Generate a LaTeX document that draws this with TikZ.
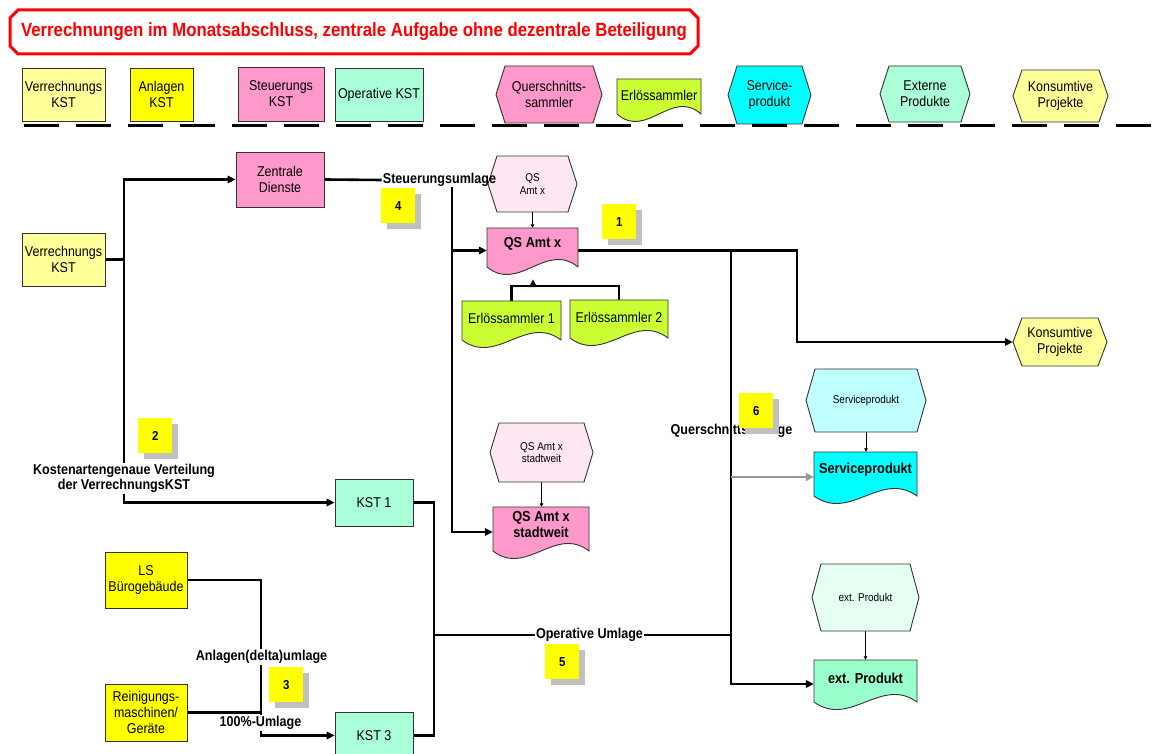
\documentclass[tikz,border=0pt]{standalone}
\usepackage{fontspec}
\setmainfont{Liberation Sans}[FakeStretch=0.88]
\usetikzlibrary{arrows.meta,calc,backgrounds}
\definecolor{cLYellow}{HTML}{FFFF99}
\definecolor{cYellow}{HTML}{FFFF00}
\definecolor{cPink}{HTML}{FF99CC}
\definecolor{cMint}{HTML}{AAFFD8}
\definecolor{cMintDoc}{HTML}{99FFCC}
\definecolor{cLime}{HTML}{CCFF33}
\definecolor{cCyan}{HTML}{00FFFF}
\definecolor{cLPink}{HTML}{FFE6F3}
\definecolor{cLCyan}{HTML}{C0FFFF}
\definecolor{cLMint}{HTML}{E6FFF3}
\definecolor{cEdge}{HTML}{333333}
\definecolor{cShadow}{HTML}{C0C0C0}
\definecolor{cRed}{HTML}{FF0000}
\definecolor{cGrayArr}{HTML}{999999}
\newcommand{\fNorm}{\fontsize{14.2}{16}\selectfont}
\newcommand{\fSmall}{\fontsize{11.3}{12.5}\selectfont}
\newcommand{\fBold}{\bfseries\fontsize{14.5}{16}\selectfont}
\tikzset{
  rectbox/.style={draw=cEdge, line width=0.9pt, inner sep=1pt, align=center, font=\fNorm},
  shapeedge/.style={draw=cEdge, line width=0.9pt},
  anchorbox/.style={inner sep=0pt, align=center},
  conn/.style={line width=2.6pt, draw=black},
  arr/.style={-{Triangle[length=8pt,width=7.5pt]}},
  garr/.style={line width=2.6pt, draw=cGrayArr, -{Triangle[length=8pt,width=8pt]}},
  thinarr/.style={line width=0.8pt, draw=black, -{Triangle[length=3.5pt,width=3.5pt]}},
  lbl/.style={font=\bfseries\fontsize{14.3}{15.5}\selectfont, inner sep=1pt, align=center},
  lblw/.style={lbl, fill=white},
  numsty/.style={fill=cYellow, inner sep=0pt, font=\bfseries\fontsize{13}{14}\selectfont},
  titlesty/.style={font=\bfseries\fontsize{19.1}{22}\selectfont, text=cRed, inner sep=0pt}
}
% rectangle: name, x1, y1, x2, y2, fill, text
\newcommand{\mkrect}[7]{%
  \node[rectbox, fill=#6, minimum width={#4-#2}, minimum height={#5-#3}] (#1) at ({(#2+#4)/2},{(#3+#5)/2}) {#7};}
% hexagon: name, x1, y1, x2, y2, fill, font, text
\newcommand{\mkhex}[8]{%
  \filldraw[shapeedge, fill=#6] (#2,{(#3+#5)/2}) -- ({#2+9},#3) -- ({#4-9},#3) -- (#4,{(#3+#5)/2}) -- ({#4-9},#5) -- ({#2+9},#5) -- cycle;
  \node[anchorbox, font=#7, minimum width={#4-#2}, minimum height={#5-#3}] (#1) at ({(#2+#4)/2},{(#3+#5)/2}) {#8};}
% document: name, x1, top, x2, ybottom, fill, font, text, text y
\newcommand{\mkdoc}[9]{%
  \filldraw[shapeedge, fill=#6] (#2,#3) -- (#4,#3) -- (#4,#5) .. controls ({#2+0.65*(#4-#2)},{#5-26}) and ({#2+0.35*(#4-#2)},{#5+26}) .. (#2,#5) -- cycle;
  \node[anchorbox, minimum width={#4-#2}, minimum height={#5+6-#3}] (#1) at ({(#2+#4)/2},{(#3+#5+6)/2}) {};
  \node[anchorbox, font=#7] (#1T) at ({(#2+#4)/2},#9) {#8};}
% number box: name, x, y, digit
\newcommand{\mknum}[4]{%
  \fill[cShadow] ({#2+6},{#3+6}) rectangle ({#2+40},{#3+41});
  \node[numsty, minimum width=34, minimum height=35, anchor=north west] (#1) at (#2,#3) {#4};}

\begin{document}
\begin{tikzpicture}[x=1pt,y=-1pt]
\useasboundingbox (0,0) rectangle (1160,754);

% title
\filldraw[draw=cRed, line width=3pt, fill=white] (18,10) -- (690,10) -- (698,18) -- (698,46) -- (690,54) -- (18,54) -- (10,46) -- (10,18) -- cycle;
\node[titlesty] (title) at (354,32) {Verrechnungen im Monatsabschluss, zentrale Aufgabe ohne dezentrale Beteiligung};

% legend
\mkrect{legVK}{22}{68}{105}{121}{cLYellow}{Verrechnungs\\KST}
\mkrect{legAK}{130}{68}{193}{121}{cYellow}{Anlagen\\KST}
\mkrect{legSK}{238}{67}{324}{121}{cPink}{Steuerungs\\KST}
\mkrect{legOK}{335}{68}{423}{121}{cMint}{Operative KST}
\mkhex{legQS}{496}{66}{602}{123}{cPink}{\fNorm}{Querschnitts-\\sammler}
\mkdoc{legES}{617}{79}{701}{114}{cLime}{\fNorm}{Erlössammler}{95}
\mkhex{legSP}{728}{66}{811}{124}{cCyan}{\fNorm}{Service-\\produkt}
\mkhex{legEP}{880}{66}{970}{122}{cMint}{\fNorm}{Externe\\Produkte}
\mkhex{legKP}{1013}{70}{1108}{122}{cLYellow}{\fNorm}{Konsumtive\\Projekte}
\draw[line width=3pt, dash pattern=on 35pt off 17pt] (24,126) -- (1160,126);

% main boxes
\mkrect{vk}{22}{233}{105}{286}{cLYellow}{Verrechnungs\\KST}
\mkrect{zd}{236}{152}{324}{207}{cPink}{Zentrale\\Dienste}
\mkrect{kst1}{335}{479}{413}{526}{cMint}{KST 1}
\mkrect{kst3}{335}{712}{413}{759}{cMint}{KST 3}
\mkrect{ls}{105}{552}{187}{608}{cYellow}{LS\\Bürogebäude}
\mkrect{rg}{105}{684}{187}{741}{cYellow}{Reinigungs-\\maschinen/\\Geräte}

\mkhex{qshex}{488}{156}{577}{212}{cLPink}{\fSmall}{QS\\Amt x}
\mkdoc{qsdoc}{487}{228}{578}{267}{cPink}{\fBold}{QS Amt x}{244}
\mkdoc{es1}{462}{301}{561}{340}{cLime}{\fNorm}{Erlössammler 1}{318}
\mkdoc{es2}{570}{300}{668}{338}{cLime}{\fNorm}{Erlössammler 2}{317}
\mkhex{kp}{1013}{318}{1107}{366}{cLYellow}{\fNorm}{Konsumtive\\Projekte}
\mkhex{sphex}{806}{369}{926}{432}{cLCyan}{\fSmall}{Serviceprodukt}
\mkdoc{spdoc}{814}{452}{917}{496}{cCyan}{\fBold}{Serviceprodukt}{470}
\mkhex{qsshex}{490}{423}{593}{482}{cLPink}{\fSmall}{QS Amt x\\stadtweit}
\mkdoc{qssdoc}{493}{507}{589}{551}{cPink}{\fBold}{QS Amt x\\stadtweit}{525}
\mkhex{ephex}{812}{564}{919}{631}{cLMint}{\fSmall}{ext. Produkt}
\mkdoc{epdoc}{814}{660}{917}{702}{cMintDoc}{\fBold}{ext. Produkt}{678}

% labels
\node[lbl] (stl) at (439.5,180) {Steuerungsumlage};
\node[lblw] (kvl) at (124,478.5) {Kostenartengenaue Verteilung\\der VerrechnungsKST};
\node[lblw] (opl) at (589.5,635) {Operative Umlage};
\node[lblw] (anl) at (261.5,657) {Anlagen(delta)umlage};
\node[lblw] (hul) at (260.5,723) {100\%-Umlage};
\node[lbl] (qul) at (731.5,431) {Querschnittsumlage};

% number boxes
\mknum{n4}{381}{188}{4}
\mknum{n1}{602}{204}{1}
\mknum{n2}{138}{418}{2}
\mknum{n6}{739}{393}{6}
\mknum{n5}{545}{644}{5}
\mknum{n3}{269}{667}{3}

% connectors
\begin{pgfonlayer}{background}
\coordinate (j1) at (124,259.5);
\draw[conn] (vk.east) -- (j1);
\draw[conn,arr] (j1) |- (zd.west);
\draw[conn,arr] (j1) |- (kst1.west);
\draw[conn] (zd.east) -- (stl.west);
\coordinate (s1) at (452,187);
\draw[conn,arr] (s1) |- (qsdoc.west);
\draw[conn,arr] (s1) |- (qssdoc.west);
\coordinate (e0) at (533,286);
\draw[conn] (es1.north) |- (e0) -| (es2.north);
\draw[conn,arr,shorten >=6pt] (e0) -- (e0 |- qsdoc.south);
\coordinate (k1) at (797,250.5);
\draw[conn,arr] (qsdoc.east) -- (k1) |- (kp.west);
\coordinate (q1) at (731,250.5);
\draw[conn,arr] (q1) |- (epdoc.west);
\draw[garr] (q1 |- spdoc.west) -- (spdoc.west);
\coordinate (o0) at (434,502.5);
\coordinate (o1) at (434,635);
\coordinate (o2) at (434,735.5);
\draw[conn] (kst1.east) -- (o0) -- (o2) -- (kst3.east);
\draw[conn] (o1) -- (q1 |- o1);
\coordinate (a1) at (261,580);
\coordinate (a2) at (261,712.5);
\draw[conn] (ls.east) -- (a1) -- (a2) -- (rg.east);
\draw[conn,arr] (a2) |- (kst3.west);
\draw[thinarr] (qshex.south) -- (qshex.south |- qsdoc.north);
\draw[thinarr] (sphex.south) -- (sphex.south |- spdoc.north);
\draw[thinarr] (qsshex.south) -- (qsshex.south |- qssdoc.north);
\draw[thinarr] (ephex.south) -- (ephex.south |- epdoc.north);
\end{pgfonlayer}
\end{tikzpicture}
\end{document}
